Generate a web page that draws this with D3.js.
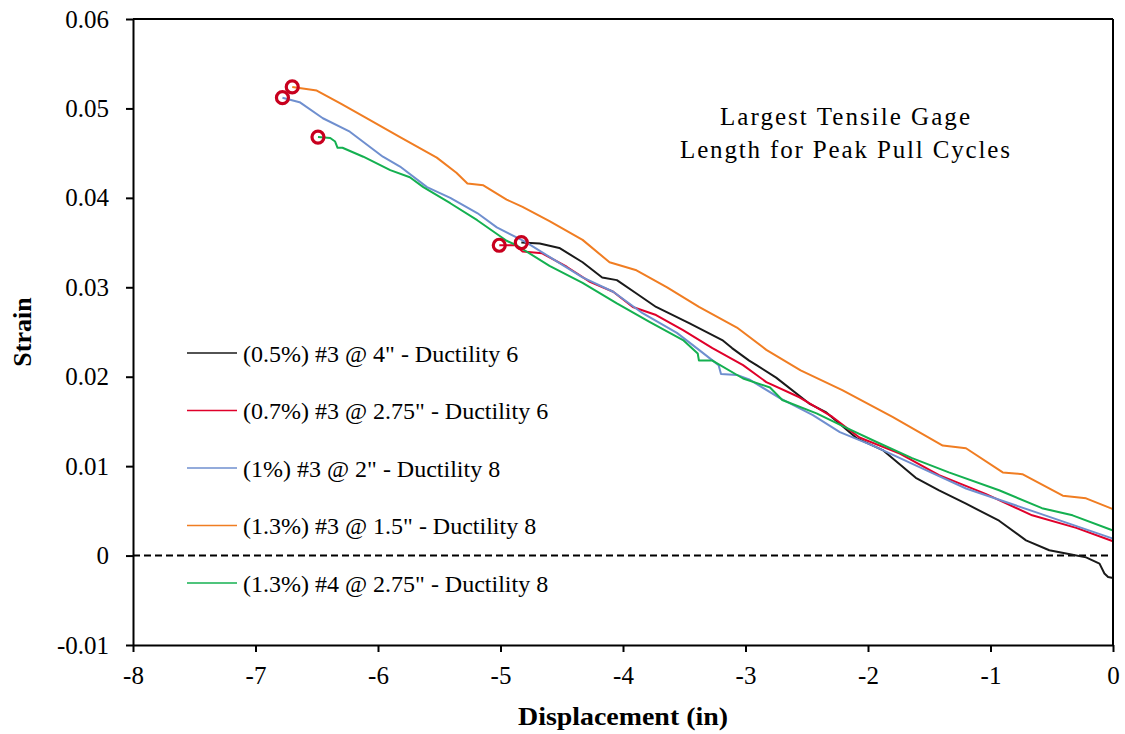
<!DOCTYPE html>
<html>
<head>
<meta charset="utf-8">
<script src="https://cdn.jsdelivr.net/npm/d3@7"></script>
<style>
  html, body { margin: 0; padding: 0; background: #fff; }
  svg { display: block; }
</style>
</head>
<body>
<svg id="chart" width="1125" height="734"></svg>
<script>
// ---------- data ----------
const seriesNames = [
  '(0.5%) #3 @ 4" - Ductility 6',
  '(0.7%) #3 @ 2.75" - Ductility 6',
  '(1%) #3 @ 2" - Ductility 8',
  '(1.3%) #3 @ 1.5" - Ductility 8',
  '(1.3%) #4 @ 2.75" - Ductility 8'
];
const seriesColors = ["#1a1a1a", "#e0002a", "#6f8fcf", "#f07d22", "#14b050"];

const s05 = [[-4.83,0.0350],[-4.68,0.0349],[-4.52,0.0344],[-4.33,0.0328],[-4.17,0.0311],[-4.05,0.0308],[-3.89,0.0293],[-3.73,0.0278],[-3.46,0.0260],[-3.19,0.0241],[-3.11,0.0232],[-2.97,0.0218],[-2.91,0.0213],[-2.75,0.0199],[-2.48,0.0170],[-2.34,0.0160],[-2.09,0.0131],[-1.88,0.0118],[-1.61,0.0087],[-1.42,0.0073],[-1.20,0.0058],[-0.93,0.0039],[-0.71,0.0017],[-0.52,0.0006],[-0.33,0.0001],[-0.22,-0.0002],[-0.11,-0.0009],[-0.07,-0.0020],[-0.04,-0.0024],[0,-0.0025]];
const s07 = [[-5.01,0.0347],[-4.88,0.0347],[-4.82,0.0340],[-4.66,0.0338],[-4.46,0.0323],[-4.27,0.0306],[-4.08,0.0295],[-3.92,0.0278],[-3.73,0.0269],[-3.51,0.0252],[-3.27,0.0232],[-3.02,0.0213],[-2.83,0.0194],[-2.56,0.0177],[-2.29,0.0155],[-2.07,0.0132],[-1.74,0.0114],[-1.42,0.0090],[-1.04,0.0069],[-0.66,0.0045],[-0.30,0.0031],[0,0.0016]];
const s10 = [[-6.78,0.0512],[-6.64,0.0507],[-6.45,0.0489],[-6.23,0.0474],[-5.96,0.0446],[-5.82,0.0435],[-5.60,0.0412],[-5.41,0.0400],[-5.19,0.0383],[-5.03,0.0367],[-4.80,0.0351],[-4.60,0.0334],[-4.33,0.0311],[-4.08,0.0295],[-3.84,0.0271],[-3.56,0.0249],[-3.38,0.0230],[-3.22,0.0213],[-3.20,0.0203],[-3.07,0.0202],[-2.97,0.0197],[-2.72,0.0176],[-2.45,0.0157],[-2.23,0.0138],[-1.96,0.0123],[-1.58,0.0099],[-1.20,0.0075],[-0.62,0.0048],[0,0.0019]];
const s13a = [[-6.70,0.0524],[-6.50,0.0520],[-6.30,0.0505],[-6.09,0.0489],[-5.82,0.0468],[-5.52,0.0445],[-5.36,0.0428],[-5.27,0.0416],[-5.14,0.0414],[-4.95,0.0398],[-4.82,0.0390],[-4.60,0.0374],[-4.33,0.0353],[-4.11,0.0328],[-3.89,0.0319],[-3.64,0.0300],[-3.38,0.0278],[-3.07,0.0255],[-2.83,0.0230],[-2.55,0.0207],[-2.21,0.0185],[-1.80,0.0155],[-1.39,0.0123],[-1.20,0.0120],[-0.90,0.0093],[-0.74,0.0091],[-0.41,0.0067],[-0.22,0.0064],[0,0.0052]];
const s13b = [[-6.49,0.0468],[-6.39,0.0467],[-6.35,0.0463],[-6.33,0.0456],[-6.29,0.0456],[-6.12,0.0446],[-5.90,0.0431],[-5.74,0.0423],[-5.63,0.0412],[-5.41,0.0394],[-5.19,0.0375],[-4.95,0.0352],[-4.87,0.0347],[-4.60,0.0324],[-4.33,0.0305],[-4.05,0.0282],[-3.78,0.0261],[-3.51,0.0241],[-3.39,0.0226],[-3.38,0.0218],[-3.27,0.0218],[-3.02,0.0198],[-2.80,0.0188],[-2.70,0.0174],[-2.42,0.0159],[-2.18,0.0143],[-1.93,0.0127],[-1.64,0.0109],[-1.34,0.0093],[-0.93,0.0073],[-0.58,0.0053],[-0.33,0.0045],[0,0.0028]];
const seriesValues = [s05, s07, s10, s13a, s13b];

const xTicks = [-8, -7, -6, -5, -4, -3, -2, -1, 0];
const yTicks = [-0.01, 0, 0.01, 0.02, 0.03, 0.04, 0.05, 0.06];
const xTickLabels = ["-8", "-7", "-6", "-5", "-4", "-3", "-2", "-1", "0"];
const yTickLabels = ["-0.01", "0", "0.01", "0.02", "0.03", "0.04", "0.05", "0.06"];
const titleLines = ["Largest Tensile Gage", "Length for Peak Pull Cycles"];
const xTitle = "Displacement (in)";
const yTitle = "Strain";

// ---------- font pick (serif, Times-like) ----------
function pickFont(cands) {
  const c = document.createElement("canvas").getContext("2d");
  const probe = "Displacement 0123456789 @#%";
  for (const f of cands) {
    for (const base of ["monospace", "sans-serif"]) {
      c.font = `40px ${base}`; const w0 = c.measureText(probe).width;
      c.font = `40px "${f}", ${base}`; const w1 = c.measureText(probe).width;
      if (Math.abs(w1 - w0) > 0.5) return `"${f}", serif`;
    }
  }
  return "serif";
}
const FONT = pickFont(["Liberation Serif", "Times New Roman", "Tinos", "Nimbus Roman", "DejaVu Serif", "Noto Serif"]);

// ---------- layout ----------
const svg = d3.select("#chart").style("font-family", FONT);
const L = 133, R = 1113, T = 19, B = 645;
const x = d3.scaleLinear().domain([-8, 0]).range([L, R]);
const y = d3.scaleLinear().domain([-0.01, 0.06]).range([B, T]);

// zero dashed line
svg.append("line")
  .attr("x1", x(-8)).attr("x2", x(0)).attr("y1", y(0)).attr("y2", y(0))
  .attr("stroke", "#000").attr("stroke-width", 2).attr("stroke-dasharray", "7,4");

// series lines
const line = d3.line().x(d => x(d[0])).y(d => y(d[1]));
seriesValues.forEach((s, i) => {
  svg.append("path").datum(s).attr("d", line)
    .attr("fill", "none").attr("stroke", seriesColors[i])
    .attr("stroke-width", 2).attr("stroke-linejoin", "round");
});

// start-point circles
svg.append("g").selectAll("circle").data(seriesValues).join("circle")
  .attr("cx", s => x(s[0][0])).attr("cy", s => y(s[0][1]))
  .attr("r", 6).attr("fill", "none").attr("stroke", "#c8001e").attr("stroke-width", 3.2);

// frame (top / right)
svg.append("line").attr("x1", L).attr("x2", R).attr("y1", T).attr("y2", T)
  .attr("stroke", "#000").attr("stroke-width", 2);
svg.append("line").attr("x1", R).attr("x2", R).attr("y1", T).attr("y2", B)
  .attr("stroke", "#000").attr("stroke-width", 2);

// axes
const xAxis = d3.axisBottom(x).tickValues(xTicks)
  .tickFormat((d, i) => xTickLabels[i]).tickSize(7).tickSizeOuter(0).tickPadding(14);
const yAxis = d3.axisLeft(y).tickValues(yTicks)
  .tickFormat((d, i) => yTickLabels[i]).tickSize(7).tickSizeOuter(0).tickPadding(17);

const gx = svg.append("g").attr("transform", `translate(0,${B})`).call(xAxis);
const gy = svg.append("g").attr("transform", `translate(${L},0)`).call(yAxis);
[gx, gy].forEach(g => {
  g.attr("font-family", FONT).attr("font-size", 25);
  g.select(".domain").attr("stroke", "#000").attr("stroke-width", 2);
  g.selectAll(".tick line").attr("stroke", "#000").attr("stroke-width", 2);
  g.selectAll(".tick text").attr("fill", "#000");
});

// axis titles
svg.append("text").attr("x", 623).attr("y", 725).attr("text-anchor", "middle")
  .attr("font-size", 26).attr("font-weight", "bold").attr("fill", "#000")
  .attr("textLength", 210).attr("lengthAdjust", "spacingAndGlyphs").text(xTitle);
svg.append("text").attr("transform", "translate(31,332) rotate(-90)")
  .attr("text-anchor", "middle").attr("font-size", 26).attr("font-weight", "bold")
  .attr("fill", "#000").text(yTitle);

// chart annotation title
const titleLens = [250, 330];
titleLines.forEach((t, i) => {
  svg.append("text").attr("x", 845).attr("y", 125 + i * 33).attr("text-anchor", "middle")
    .attr("font-size", 25).attr("fill", "#000")
    .attr("textLength", titleLens[i]).attr("lengthAdjust", "spacing").text(t);
});

// legend
const lg = svg.append("g");
seriesNames.forEach((n, i) => {
  const ly = 353 + i * 57.5;
  lg.append("line").attr("x1", 187).attr("x2", 237).attr("y1", ly).attr("y2", ly)
    .attr("stroke", seriesColors[i]).attr("stroke-width", 1.6);
  lg.append("text").attr("x", 243).attr("y", ly + 8.5).attr("font-size", 24)
    .attr("fill", "#000").text(n);
});
</script>
</body>
</html>
